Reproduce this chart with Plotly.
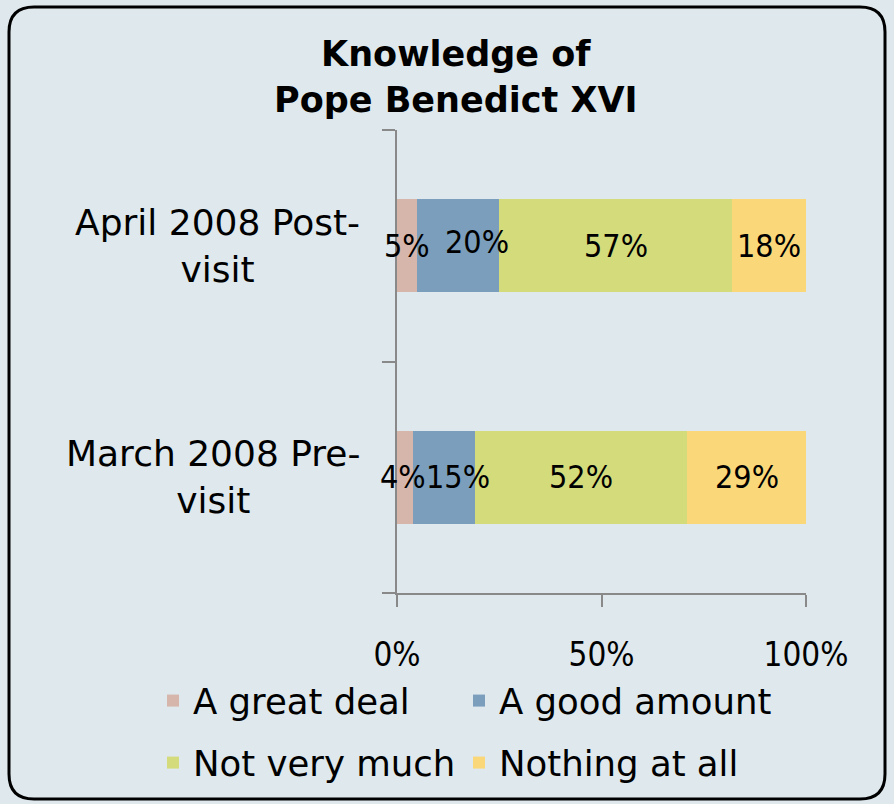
import plotly.graph_objects as go

categories = ["March 2008 Pre-visit", "April 2008 Post-visit"]
cat_labels = ["March 2008 Pre-<br>visit", "April 2008 Post-<br>visit"]
series_names = ["A great deal", "A good amount", "Not very much", "Nothing at all"]
great_deal = [4, 5]
good_amount = [15, 20]
not_very_much = [52, 57]
nothing_at_all = [29, 18]
x_tick_vals = [0, 50, 100]
x_tick_text = ["0%", "50%", "100%"]

colors = ["#D6B6AA", "#7A9EBC", "#D4DB7B", "#FAD87A"]
TEXT_FONT = "'DejaVu Sans', Verdana, sans-serif"
NUM_FONT = "'DejaVu Sans Condensed', 'DejaVu Sans', sans-serif"
W, H = 894, 804
BG = "#DEE8ED"

# legend placement per series (px of left edge, px of row centre)
legend_ids = ["legend", "legend2", "legend3", "legend4"]
legend_pos = [(153, 701), (459, 701), (153, 763), (459, 763)]

fig = go.Figure()
all_series = [great_deal, good_amount, not_very_much, nothing_at_all]
for i, (name, vals) in enumerate(zip(series_names, all_series)):
    fig.add_trace(go.Bar(
        y=categories, x=vals, name=name, orientation="h",
        marker=dict(color=colors[i], line=dict(width=0)),
        width=0.4, hoverinfo="x+name",
        legend=legend_ids[i],
    ))

def px_x(p):
    return p / W

def px_y(p):
    return 1 - p / H

# rounded border
x0, x1, y0, y1, r = 9, 885, 7, 799, 25
path = (f"M {px_x(x0+r)},{px_y(y0)} L {px_x(x1-r)},{px_y(y0)} "
        f"Q {px_x(x1)},{px_y(y0)} {px_x(x1)},{px_y(y0+r)} "
        f"L {px_x(x1)},{px_y(y1-r)} Q {px_x(x1)},{px_y(y1)} {px_x(x1-r)},{px_y(y1)} "
        f"L {px_x(x0+r)},{px_y(y1)} Q {px_x(x0)},{px_y(y1)} {px_x(x0)},{px_y(y1-r)} "
        f"L {px_x(x0)},{px_y(y0+r)} Q {px_x(x0)},{px_y(y0)} {px_x(x0+r)},{px_y(y0)} Z")

annotations = [
    dict(text="<b>Knowledge of<br>Pope Benedict XVI</b>", x=px_x(456), y=px_y(77),
         xref="paper", yref="paper", xanchor="center", yanchor="middle",
         showarrow=False, font=dict(family=TEXT_FONT, size=35, color="black")),
]
for cat, lab in zip(categories, cat_labels):
    annotations.append(dict(text=lab, x=px_x(362), y=cat, xref="paper", yref="y",
                            xanchor="right", yanchor="middle", align="center",
                            showarrow=False,
                            font=dict(family=TEXT_FONT, size=36, color="black")))

# data labels (centred in each segment, with the small offsets seen in the source)
label_xshift = {("April 2008 Post-visit", 1): 19, ("March 2008 Pre-visit", 1): 14,
                ("March 2008 Pre-visit", 0): -2}
label_yshift = {("April 2008 Post-visit", 1): 4}
for ci, cat in enumerate(categories):
    start = 0
    for si, vals in enumerate(all_series):
        v = vals[ci]
        annotations.append(dict(
            text=f"{v}%", x=start + v / 2, y=cat, xref="x", yref="y",
            xanchor="center", yanchor="middle", showarrow=False,
            xshift=label_xshift.get((cat, si), 0), yshift=label_yshift.get((cat, si), 0),
            font=dict(family=NUM_FONT, size=32, color="black")))
        start += v

legends = {}
for lid, (lx, ly) in zip(legend_ids, legend_pos):
    legends[lid] = dict(orientation="h", xanchor="left", yanchor="middle",
                        x=px_x(lx), y=px_y(ly),
                        font=dict(family=TEXT_FONT, size=35.5, color="black"),
                        bgcolor="rgba(0,0,0,0)")

fig.update_layout(
    width=W, height=H, autosize=False,
    margin=dict(l=0, r=0, t=0, b=0, autoexpand=False),
    paper_bgcolor=BG, plot_bgcolor=BG,
    barmode="stack", bargap=0.6,
    showlegend=True,
    **legends,
    xaxis=dict(domain=[px_x(397), px_x(806)], range=[0, 100],
               tickvals=x_tick_vals, ticktext=x_tick_text,
               showgrid=False, zeroline=False, showline=True, linecolor="#898989",
               linewidth=2, ticks="outside", ticklen=12, tickwidth=2, tickcolor="#898989",
               ticklabelstandoff=19,
               tickfont=dict(family=NUM_FONT, size=33, color="black"), fixedrange=True),
    yaxis=dict(domain=[px_y(593), px_y(130)],
               categoryorder="array", categoryarray=categories, showticklabels=False,
               showgrid=False, zeroline=False, showline=True, linecolor="#898989",
               linewidth=2, ticks="outside", ticklen=13, tickwidth=2, tickcolor="#898989",
               tickson="boundaries", range=[-0.5, 1.5], fixedrange=True),
    annotations=annotations,
    shapes=[dict(type="path", path=path, xref="paper", yref="paper",
                 line=dict(color="black", width=3), layer="above")],
    font=dict(family=TEXT_FONT, color="black"),
)

fig.write_html(
    "out.html",
    config={"displayModeBar": False},
    post_script=("document.body.style.margin='0';"
                 "document.body.style.overflow='hidden';"
                 "document.body.style.background='" + BG + "';"),
)
